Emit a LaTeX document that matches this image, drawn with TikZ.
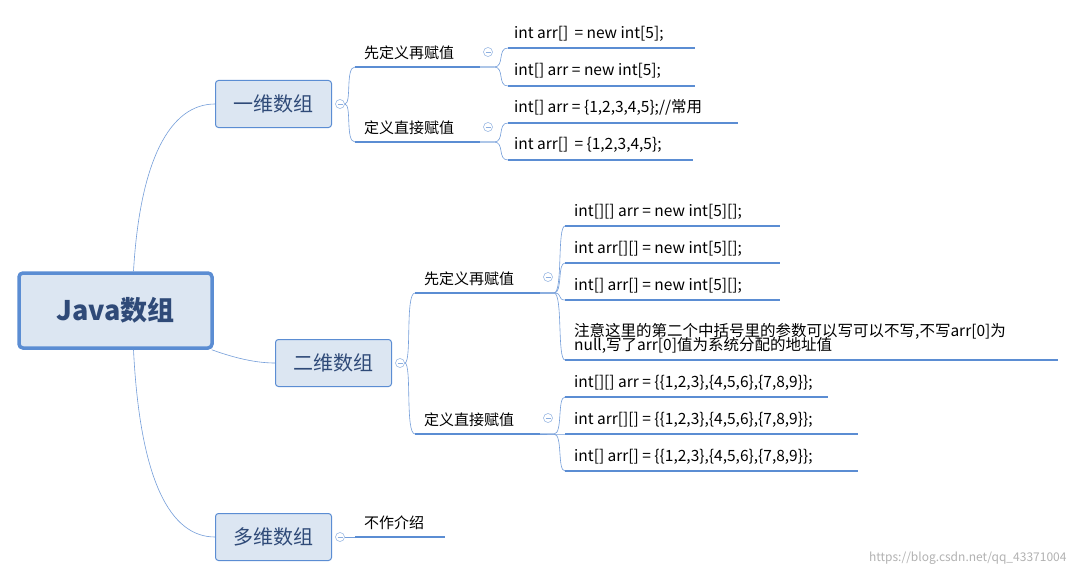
\documentclass[tikz,border=0pt]{standalone}
\usepackage{fontspec}
\setmainfont{Noto Sans CJK SC}
\definecolor{mline}{HTML}{5B8DD3}
\definecolor{mfill}{HTML}{DCE6F2}
\definecolor{mtext}{HTML}{2F4A78}
\tikzset{
  rootbox/.style={draw=mline,line width=3.5pt,fill=mfill,rounded corners=4pt,minimum width=193pt,minimum height=75pt,font=\fontsize{27}{27}\selectfont\bfseries,text=mtext},
  topicbox/.style={draw=mline,line width=1pt,fill=mfill,rounded corners=3pt,minimum width=116pt,minimum height=47pt,font=\fontsize{20}{20}\selectfont,text=mtext},
  branch/.style={anchor=south west,inner sep=2pt,font=\fontsize{15}{15}\selectfont},
  leaf/.style={anchor=south west,inner sep=2pt,font=\fontsize{15.5}{15.5}\selectfont},
  uline/.style={mline,line width=2.5pt},
  conn/.style={mline!85,line width=0.6pt},
  fold/.style={draw=mline!70,fill=white,circle,inner sep=0pt,minimum size=9pt,line width=0.5pt,
    path picture={\draw[mline!70,line width=0.6pt] ([xshift=-2.5pt]path picture bounding box.center) -- ([xshift=2.5pt]path picture bounding box.center);}}
}
\begin{document}
\begin{tikzpicture}[x=1pt,y=-1pt]
\useasboundingbox (0,0) rectangle (1077,578);
\fill[white] (0,0) rectangle (1077,578);

% main topics
\node[rootbox] (root) at (115.5,310.5) {Java数组};
\node[topicbox] (one) at (273.5,104) {一维数组};
\node[topicbox] (two) at (333.5,363) {二维数组};
\node[topicbox] (multi) at (273.5,537) {多维数组};
\draw[conn] (root.north) ++(18,0) .. controls (140,160) and (170,104) .. (one.west);
\draw[conn] (root.south east) ++(-2,0) .. controls (240,360) and (260,363) .. (two.west);
\draw[conn] (root.south) ++(18,0) .. controls (140,480) and (170,537) .. (multi.west);

% one dimension
\node[fold] (f1) at (340,104) {};
\coordinate (b1) at (355,67);
\coordinate (b2) at (355,142);
\draw[conn] (f1.east) .. controls (352,104) and (345,67) .. (b1);
\draw[conn] (f1.east) .. controls (352,104) and (345,142) .. (b2);
\node[branch] (t1) at (362,62) {先定义再赋值};
\node[branch] (t2) at (362,137) {定义直接赋值};
\draw[uline] (b1) -- ++(125,0) coordinate (e1);
\draw[uline] (b2) -- ++(125,0) coordinate (e2);
\node[fold] (f11) at (488,52) {};
\node[fold] (f12) at (488,127) {};
\draw[conn] (e1) -- ++(14,0) .. controls (505,67) and (497,48) .. (508,48);
\draw[conn] (e1) -- ++(14,0) .. controls (505,67) and (497,86) .. (508,86);
\draw[conn] (e2) -- ++(14,0) .. controls (505,142) and (497,123) .. (508,123);
\draw[conn] (e2) -- ++(14,0) .. controls (505,142) and (497,160) .. (508,160);
\node[leaf] (a1) at (512,44) {int arr[] \,= new int[5];};
\node[leaf] (a2) at (512,81) {int[] arr = new int[5];};
\node[leaf] (a3) at (512,118) {int[] arr = \{1,2,3,4,5\};//常用};
\node[leaf] (a4) at (512,155) {int arr[] \,= \{1,2,3,4,5\};};
\draw[uline] (508,48) -- (695,48);
\draw[uline] (508,86) -- (695,86);
\draw[uline] (508,123) -- (738,123);
\draw[uline] (508,160) -- (693,160);

% two dimensions
\node[fold] (f2) at (400,363) {};
\coordinate (b3) at (415,293);
\coordinate (b4) at (415,434);
\draw[conn] (f2.east) .. controls (412,363) and (405,293) .. (b3);
\draw[conn] (f2.east) .. controls (412,363) and (405,434) .. (b4);
\node[branch] (t3) at (422,288) {先定义再赋值};
\node[branch] (t4) at (422,429) {定义直接赋值};
\draw[uline] (b3) -- ++(125,0) coordinate (e3);
\draw[uline] (b4) -- ++(125,0) coordinate (e4);
\node[fold] (f21) at (548,277) {};
\node[fold] (f22) at (548,418) {};
\foreach \y in {226,263,300,360}
  \draw[conn] (e3) -- ++(14,0) .. controls (563,293) and (557,\y) .. (565,\y) -- (567,\y);
\foreach \y in {397,434,471}
  \draw[conn] (e4) -- ++(14,0) .. controls (563,434) and (557,\y) .. (565,\y) -- (567,\y);
\node[leaf] (c1) at (572,222) {int[][] arr = new int[5][];};
\node[leaf] (c2) at (572,259) {int arr[][] = new int[5][];};
\node[leaf] (c3) at (572,296) {int[] arr[] = new int[5][];};
\node[leaf,align=left] (c4) at (572,356) {注意这里的第二个中括号里的参数可以写可以不写,不写arr[0]为\\[-3pt]null,写了arr[0]值为系统分配的地址值};
\node[leaf] (d1) at (572,393) {int[][] arr = \{\{1,2,3\},\{4,5,6\},\{7,8,9\}\};};
\node[leaf] (d2) at (572,430) {int arr[][] = \{\{1,2,3\},\{4,5,6\},\{7,8,9\}\};};
\node[leaf] (d3) at (572,467) {int[] arr[] = \{\{1,2,3\},\{4,5,6\},\{7,8,9\}\};};
\draw[uline] (565,226) -- (780,226);
\draw[uline] (565,263) -- (780,263);
\draw[uline] (565,300) -- (780,300);
\draw[uline] (565,360) -- (1058,360);
\draw[uline] (565,397) -- (828,397);
\draw[uline] (565,434) -- (858,434);
\draw[uline] (565,471) -- (858,471);

% multi dimensions
\node[fold] (f3) at (340,537) {};
\node[branch] (t5) at (362,532) {不作介绍};
\draw[conn] (f3.east) -- (355,537);
\draw[uline] (355,537) -- (445,537);

\node[anchor=south east,text=gray!60,font=\fontsize{12}{12}\selectfont] (mark) at (1070,568) {https://blog.csdn.net/qq\_43371004};
\end{tikzpicture}
\end{document}
